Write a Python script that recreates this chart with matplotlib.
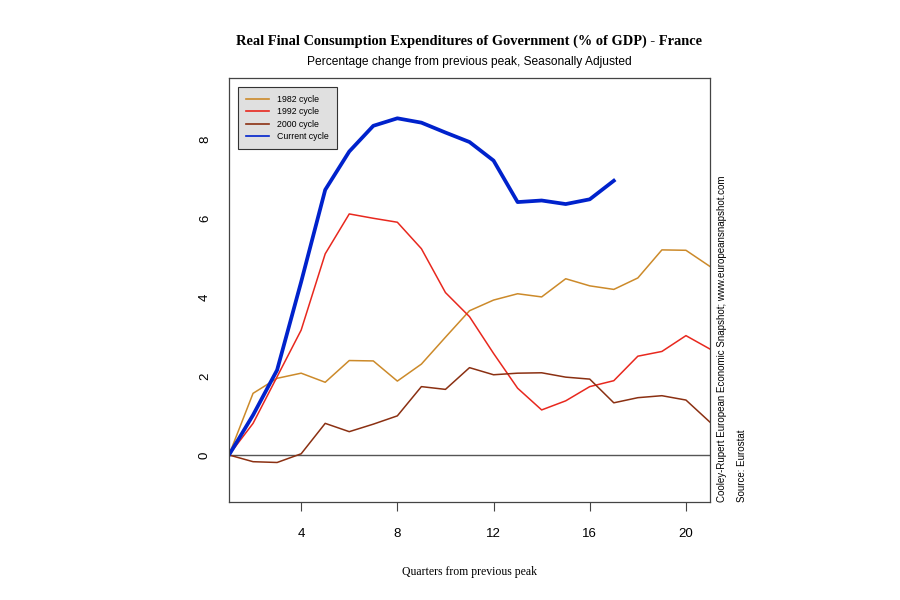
import matplotlib
matplotlib.use("Agg")
import matplotlib.pyplot as plt

quarters = list(range(1, 22))
cycle_1982 = [0, 1.56, 1.94, 2.07, 1.84, 2.39, 2.38, 1.87, 2.30, 2.98, 3.65, 3.92, 4.08, 4.00,
              4.46, 4.28, 4.19, 4.48, 5.19, 5.18, 4.77]
cycle_1992 = [0, 0.80, 1.98, 3.16, 5.09, 6.10, 5.99, 5.89, 5.22, 4.11, 3.50, 2.57, 1.69, 1.14,
              1.37, 1.73, 1.88, 2.50, 2.62, 3.02, 2.68]
cycle_2000 = [0, -0.17, -0.19, 0.03, 0.80, 0.59, 0.78, 0.99, 1.73, 1.66, 2.21, 2.03, 2.07, 2.08,
              1.97, 1.92, 1.32, 1.45, 1.50, 1.39, 0.83]
current_q = list(range(1, 18))
current_cycle = [0, 1.01, 2.15, 4.38, 6.71, 7.68, 8.33, 8.52, 8.41, 8.16, 7.92, 7.45, 6.40, 6.44,
                 6.35, 6.47, 6.94]

series_labels = ["1982 cycle", "1992 cycle", "2000 cycle", "Current cycle"]
x_ticks = [4, 8, 12, 16, 20]
y_ticks = [0, 2, 4, 6, 8]

fig = plt.figure(figsize=(9, 6), dpi=100)
ax = fig.add_axes([229/900, 1 - 502/600, (710-229)/900, (502-78)/600])

ax.axhline(0, color="#555555", lw=1.0, zorder=1)
ax.plot(quarters, cycle_1982, color="#CC8A2A", lw=1.1, label=series_labels[0])
ax.plot(quarters, cycle_1992, color="#E8281E", lw=1.1, label=series_labels[1])
ax.plot(quarters, cycle_2000, color="#8B3012", lw=1.1, label=series_labels[2])
ax.plot(current_q, current_cycle, color="#0022CC", lw=2.7, label=series_labels[3])

ax.set_xlim(1, 21)
ax.set_ylim(-1.19, 9.54)
ax.set_xticks(x_ticks)
ax.set_yticks(y_ticks)
ax.tick_params(axis="x", direction="out", length=6.5, width=0.8, color="#444444",
               pad=12, labelsize=9.5)
ax.tick_params(axis="y", length=0, pad=13, labelsize=9.5, labelrotation=90)
for lab in ax.get_yticklabels():
    lab.set_verticalalignment("center")
for lab in ax.get_xticklabels() + ax.get_yticklabels():
    lab.set_fontfamily("Liberation Sans")
for sp in ax.spines.values():
    sp.set_color("#444444")
    sp.set_linewidth(0.9)

leg = ax.legend(loc="upper left", bbox_to_anchor=(9/481, 1 - 9/424), borderaxespad=0,
                frameon=True, fancybox=False, handlelength=2.6,
                handletextpad=1.0, labelspacing=0.4, borderpad=0.9,
                prop={"family": "Liberation Sans", "size": 6.3})
leg.get_frame().set_facecolor("#E0E0E0")
leg.get_frame().set_edgecolor("#333333")
leg.get_frame().set_alpha(1)
leg.get_frame().set_linewidth(0.8)
for h in leg.get_lines():
    h.set_linewidth(1.2)

fig.text(469/900, 1 - 41/600, "Real Final Consumption Expenditures of Government (% of GDP) - France",
         ha="center", va="center", fontsize=10.4, fontweight="bold", family="Liberation Serif")
fig.text(469/900, 1 - 62/600, "Percentage change from previous peak, Seasonally Adjusted",
         ha="center", va="center", fontsize=8.65, family="Liberation Sans")
fig.text(469/900, 1 - 572/600, "Quarters from previous peak",
         ha="center", va="center", fontsize=8.5, family="Liberation Serif")
fig.text(722/900, 1 - 502/600, "Cooley-Rupert European Economic Snapshot; www.europeansnapshot.com",
         rotation=90, ha="center", va="bottom", fontsize=7, family="Liberation Sans")
fig.text(742/900, 1 - 502/600, "Source: Eurostat",
         rotation=90, ha="center", va="bottom", fontsize=7, family="Liberation Sans")

fig.savefig("out.png", dpi=100)
